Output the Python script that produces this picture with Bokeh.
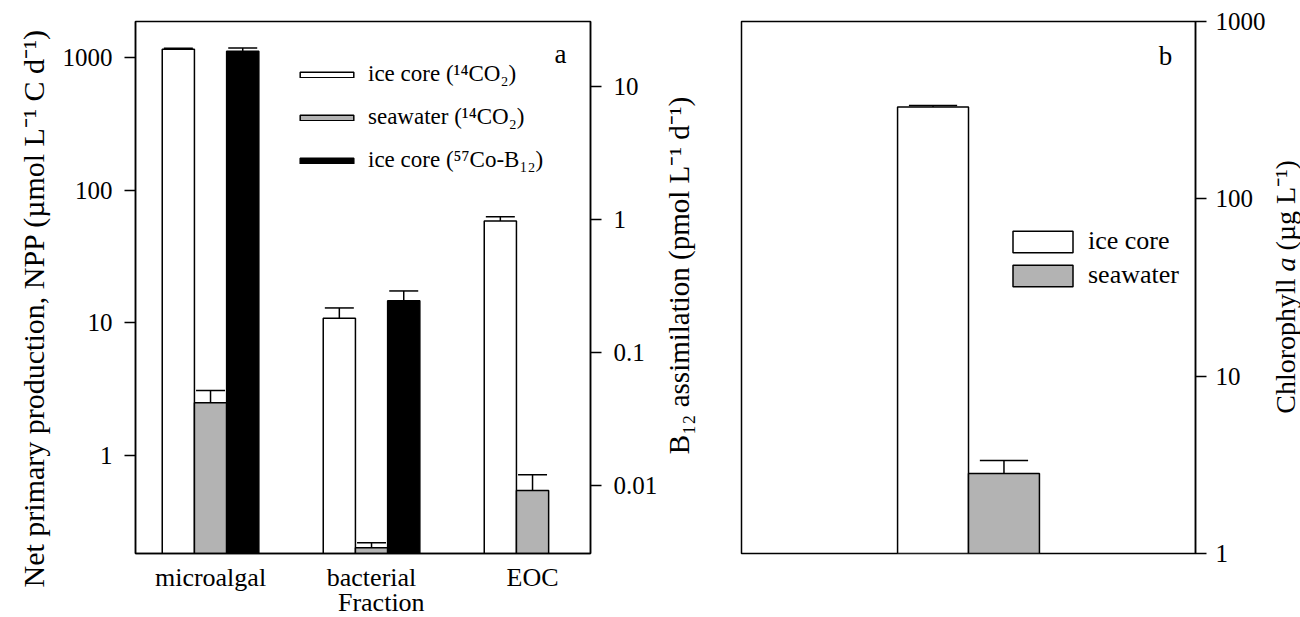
import math
from bokeh.plotting import figure
from bokeh.models import (Range1d, LogAxis, LogScale, FixedTicker, CustomJSTickFormatter,
                          Label, Legend, LegendItem, Title)
from bokeh.layouts import row
from bokeh.embed import file_html
from bokeh.resources import INLINE

FONT = "Liberation Serif"

# ---------------- data ----------------
fractions = ["microalgal", "bacterial", "EOC"]
npp_ice = [1157, 10.8, 58.5]          # ice core (14CO2), umol L-1 C d-1
npp_ice_err = [21, 2.1, 4.3]
npp_sea = [2.48, 0.20, 0.54]          # seawater (14CO2)
npp_sea_err = [0.60, 0.018, 0.17]
b12_fractions = ["microalgal", "bacterial"]
b12_ice = [18.5, 0.246]               # ice core (57Co-B12), pmol L-1 d-1
b12_ice_err = [1.1, 0.046]

chl_samples = ["ice core", "seawater"]
chl = [330, 2.83]                     # chlorophyll a, ug L-1
chl_err = [6, 0.51]

npp_ticks = [1, 10, 100, 1000]
b12_ticks = [0.01, 0.1, 1, 10]
chl_ticks = [1, 10, 100, 1000]

legend_a = ["ice core (¹⁴CO₂)", "seawater (¹⁴CO₂)", "ice core (⁵⁷Co-B₁₂)"]
legend_b = ["ice core", "seawater"]
x_title = "Fraction"
npp_title = "Net primary production, NPP (µmol L⁻¹ C d⁻¹)"
b12_title = "B₁₂ assimilation (pmol L⁻¹ d⁻¹)"
chl_title = ["Chlorophyll", "a", "(µg L⁻¹)"]

# ---------------- layout ----------------
TOP, FH, BOT = 21, 532, 62
A_LEFT, A_FW, A_RIGHT = 135, 455, 73
WM = 36                                   # strip for B12 title
B_LEFT, B_FW, B_RIGHT = 42, 454, 74
W3 = 31                                   # strip for chlorophyll title
FRAME_TOP = TOP
FRAME_BOTTOM = TOP + FH
A_FL = A_LEFT
B_FL = A_LEFT + A_FW + A_RIGHT + WM + B_LEFT

NPP_RANGE = (0.181, 1871)
B12_RANGE = (0.0031, 31)
CHL_RANGE = (1, 1000)
AX_RANGE = (0.534, 3.36)
BX_RANGE = (-3.2, 3.2)
BAR_A = 0.2
BAR_B = 1.0
GREY = "#b3b3b3"


def px_x(px, fl, fw, rng):
    return rng[0] + (px - fl) / fw * (rng[1] - rng[0])


def py_y(py, rng):
    lo, hi = math.log10(rng[0]), math.log10(rng[1])
    return 10 ** (lo + (FRAME_BOTTOM - py) / FH * (hi - lo))


def style_axis(ax, size="25px", tick=11, standoff=12):
    ax.axis_line_color = "black"
    ax.axis_line_width = 1.5
    ax.major_tick_line_color = "black"
    ax.major_tick_line_width = 1.5
    ax.major_tick_in = 0
    ax.major_tick_out = tick
    ax.minor_tick_line_color = None
    ax.major_label_text_font = FONT
    ax.major_label_text_font_size = size
    ax.major_label_text_color = "black"
    ax.major_label_standoff = standoff


def err_bars(p, xs, tops, errs, half, **kw):
    ys = [t + e for t, e in zip(tops, errs)]
    p.segment(x0=xs, y0=tops, x1=xs, y1=ys, line_color="black", line_width=1.5, **kw)
    p.segment(x0=[x - half for x in xs], y0=ys, x1=[x + half for x in xs], y1=ys,
              line_color="black", line_width=1.5, **kw)


def add_label(p, text, x, y, size, angle=0.0, align="center", style="normal"):
    p.add_layout(Label(x=x, y=y, text=text, text_font=FONT, text_font_size=size,
                       text_align=align, text_baseline="middle", angle=angle,
                       text_font_style=style, text_color="black"))


def strip(width):
    # narrow figure whose frame lines up with the panels; y data = page pixel row
    f = figure(title=None, x_range=Range1d(0, width),
               y_range=Range1d(FRAME_BOTTOM, FRAME_TOP),
               frame_width=width, frame_height=FH,
               min_border_left=0, min_border_right=0,
               min_border_top=TOP, min_border_bottom=BOT,
               x_axis_location=None, y_axis_location=None,
               output_backend="svg", toolbar_location=None)
    f.grid.visible = False
    f.outline_line_color = None
    return f


fmt = CustomJSTickFormatter(code="return String(tick);")

# ---------------- panel a ----------------
p1 = figure(title=None, x_range=Range1d(*AX_RANGE), y_range=Range1d(*NPP_RANGE),
            y_axis_type="log", frame_width=A_FW, frame_height=FH,
            min_border_left=A_LEFT, min_border_right=A_RIGHT,
            min_border_top=TOP, min_border_bottom=BOT,
            output_backend="svg", toolbar_location=None)
p1.extra_y_ranges = {"b12": Range1d(*B12_RANGE)}
p1.extra_y_scales = {"b12": LogScale()}
p1.grid.visible = False
p1.outline_line_color = "black"
p1.outline_line_width = 1.5

xa = list(range(1, len(fractions) + 1))
x_ice = [x - BAR_A for x in xa]
x_sea = list(xa)
x_b12 = [xa[fractions.index(f)] + BAR_A for f in b12_fractions]

r_ice = p1.vbar(x=x_ice, top=npp_ice, bottom=0.01, width=BAR_A, fill_color="white",
                line_color="black", line_width=1.5)
r_sea = p1.vbar(x=x_sea, top=npp_sea, bottom=0.01, width=BAR_A, fill_color=GREY,
                line_color="black", line_width=1.5)
r_b12 = p1.vbar(x=x_b12, top=b12_ice, bottom=0.0001, width=BAR_A, fill_color="black",
                line_color="black", line_width=1.5, y_range_name="b12")
err_bars(p1, x_ice, npp_ice, npp_ice_err, 0.09)
err_bars(p1, x_sea, npp_sea, npp_sea_err, 0.09)
err_bars(p1, x_b12, b12_ice, b12_ice_err, 0.09, y_range_name="b12")

ya = p1.yaxis[0]
ya.ticker = FixedTicker(ticks=npp_ticks, minor_ticks=[])
ya.formatter = fmt
style_axis(ya)

xax = p1.xaxis[0]
xax.ticker = FixedTicker(ticks=xa, minor_ticks=[])
tick_text = {x: f for x, f in zip(xa, fractions)}
mid = xa[len(xa) // 2]
tick_text[mid] = tick_text[mid] + "\n" + "\u00a0\u00a0\u00a0" + x_title
xax.major_label_overrides = tick_text
style_axis(xax, size="26px", tick=0, standoff=9)
xax.major_tick_line_color = None
xax.major_label_text_line_height = 0.88

yr = LogAxis(y_range_name="b12", ticker=FixedTicker(ticks=b12_ticks, minor_ticks=[]),
             formatter=fmt)
style_axis(yr, standoff=12)
p1.add_layout(yr, "right")

# left title: a side Title (not clipped), starting below the frame bottom
p1.add_layout(Title(text=npp_title, align="left", offset=-34, standoff=20,
                    text_font=FONT, text_font_size="30px", text_font_style="normal",
                    text_color="black"), "left")

leg1 = Legend(items=[LegendItem(label=l, renderers=[r]) for l, r in
                     zip(legend_a, [r_ice, r_sea, r_b12])],
              location=(158, 380), glyph_width=67, glyph_height=7, label_standoff=8,
              spacing=17, padding=0, margin=0, border_line_color=None,
              background_fill_alpha=0, label_text_font=FONT, label_text_font_size="23px",
              label_text_color="black", label_height=26)
p1.add_layout(leg1)

add_label(p1, "a", px_x(560, A_FL, A_FW, AX_RANGE), py_y(53, NPP_RANGE), "27px")

# ---------------- middle title strip ----------------
fm = strip(WM)
add_label(fm, b12_title, 15, 275, "29px", angle=math.pi / 2)

# ---------------- panel b ----------------
p2 = figure(title=None, x_range=Range1d(*BX_RANGE), y_range=Range1d(*CHL_RANGE),
            y_axis_type="log", y_axis_location="right", x_axis_location=None,
            frame_width=B_FW, frame_height=FH,
            min_border_left=B_LEFT, min_border_right=B_RIGHT,
            min_border_top=TOP, min_border_bottom=BOT,
            output_backend="svg", toolbar_location=None)
p2.grid.visible = False
p2.outline_line_color = "black"
p2.outline_line_width = 1.5

xb = [-BAR_B / 2, BAR_B / 2]
rb = []
for x, v, c in zip(xb, chl, ["white", GREY]):
    rb.append(p2.vbar(x=[x], top=[v], bottom=0.1, width=BAR_B, fill_color=c,
                      line_color="black", line_width=1.5))
err_bars(p2, xb, chl, chl_err, 0.34)

yb = p2.yaxis[0]
yb.ticker = FixedTicker(ticks=chl_ticks, minor_ticks=[])
yb.formatter = fmt
style_axis(yb, tick=11, standoff=9)

leg2 = Legend(items=[LegendItem(label=l, renderers=[r]) for l, r in zip(legend_b, rb)],
              location=(264, 263), glyph_width=75, glyph_height=27, label_standoff=8,
              spacing=4, padding=0, margin=0, border_line_color=None,
              background_fill_alpha=0, label_text_font=FONT, label_text_font_size="26px",
              label_text_color="black", label_height=30)
p2.add_layout(leg2)

add_label(p2, "b", px_x(1165, B_FL, B_FW, BX_RANGE), py_y(55, CHL_RANGE), "27px")

# ---------------- right title strip (italic "a") ----------------
f3 = strip(W3)
S = 28
w1 = (4.834 + 0.25) * S
w2 = (0.5 + 0.25) * S
total = 9.02 * S
y0 = (FRAME_TOP + FRAME_BOTTOM) / 2 + total / 2
cx = W3 / 2
add_label(f3, chl_title[0], cx, y0, f"{S}px", angle=math.pi / 2, align="left")
add_label(f3, chl_title[1], cx, y0 - w1, f"{S}px", angle=math.pi / 2, align="left",
          style="italic")
add_label(f3, chl_title[2], cx, y0 - w1 - w2, f"{S}px", angle=math.pi / 2, align="left")

layout = row(p1, fm, p2, f3)
open("out.html", "w").write(file_html(layout, INLINE))
